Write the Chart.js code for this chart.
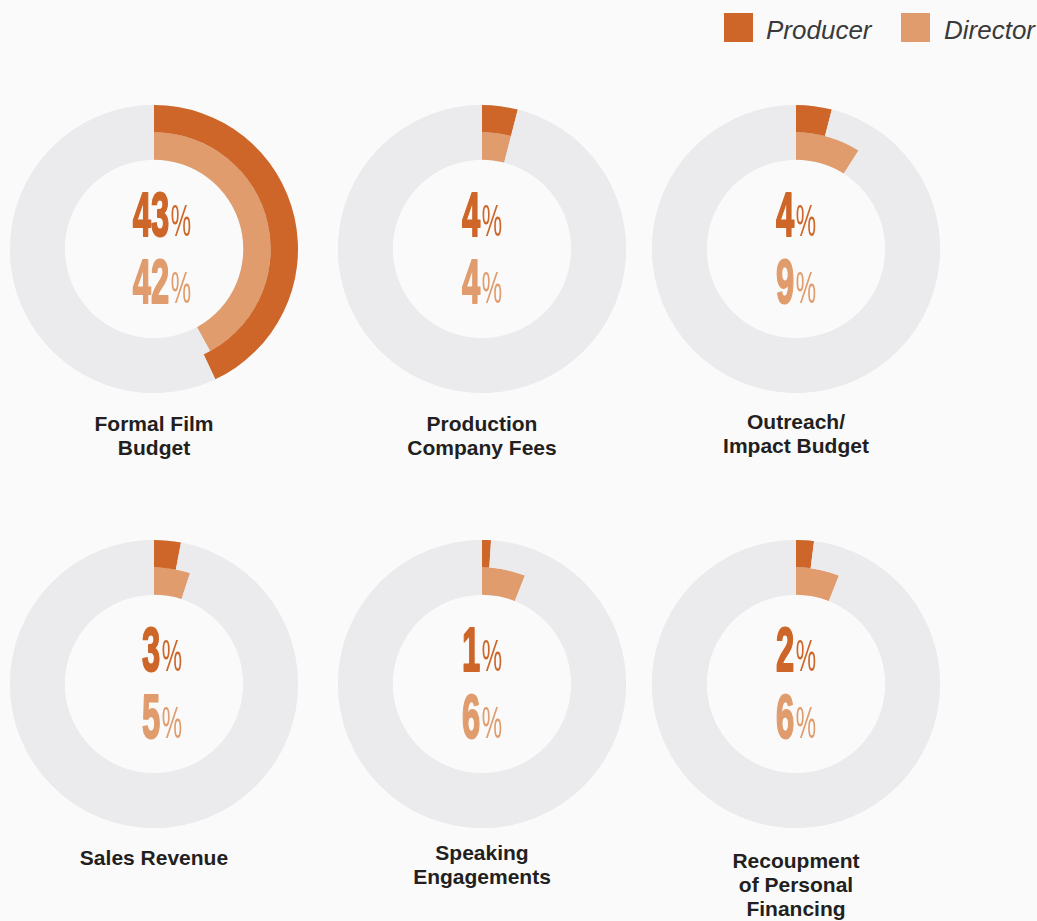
<!DOCTYPE html>
<html>
<head>
<meta charset="utf-8">
<script src="https://cdn.jsdelivr.net/npm/chart.js@4.4.1/dist/chart.umd.min.js"></script>
<style>
  html, body { margin: 0; padding: 0; background: #fafafa; }
  body { width: 1037px; height: 921px; position: relative; overflow: hidden; font-family: "Liberation Sans", Arial, sans-serif; }
  .ring { position: absolute; width: 288px; height: 288px; }
  .title { position: absolute; width: 260px; text-align: center; font-weight: bold; font-size: 21px; line-height: 24px; color: #231f20; }
  .legend-box { position: absolute; width: 29px; height: 29px; top: 13px; }
  .legend-text { position: absolute; top: 17px; font-size: 26px; line-height: 26px; font-style: italic; color: #3a3a3a; }
</style>
</head>
<body>
<div class="legend-box" style="left:724px; background:#cd6628;"></div>
<span class="legend-text" id="lg-0" style="left:766px;"></span>
<div class="legend-box" style="left:901px; background:#e09c6d;"></div>
<span class="legend-text" id="lg-1" style="left:944px;"></span>

<script>
// ============================== DATA

const categories = [
  ['Formal Film', 'Budget'],
  ['Production', 'Company Fees'],
  ['Outreach/', 'Impact Budget'],
  ['Sales Revenue'],
  ['Speaking', 'Engagements'],
  ['Recoupment', 'of Personal', 'Financing'],
];
const seriesNames = ['Producer', 'Director'];
const producerPct = [43, 4, 4, 3, 1, 2];
const directorPct = [42, 4, 9, 5, 6, 6];

// ============================== LAYOUT

const PRODUCER_COLOR = '#cd6628';
const DIRECTOR_COLOR = '#e09c6d';
const TRACK_COLOR = '#ebebed';

const centers = [
  [154, 249], [482, 249], [796, 249],
  [154, 684], [482, 684], [796, 684],
];
const textShift = [8, 0, 0, 8, 0, 0];
const titleTops = [412, 412, 410, 846, 841, 849];

// ============================== UTILS

function drawPct(ctx, value, x, y, color) {
  ctx.save();
  ctx.translate(x, y);
  ctx.scale(0.52, 1);
  ctx.fillStyle = color;
  ctx.strokeStyle = color;
  ctx.textBaseline = 'alphabetic';
  ctx.textAlign = 'left';

  ctx.font = 'bold 63px "Liberation Sans"';
  const num = String(value);
  const wNum = ctx.measureText(num).width;
  ctx.font = '44px "Liberation Sans"';
  const wPct = ctx.measureText('%').width;
  const gap = 3;
  const start = -(wNum + gap + wPct) / 2;

  ctx.font = 'bold 63px "Liberation Sans"';
  ctx.lineWidth = 2;
  ctx.lineJoin = 'round';
  ctx.fillText(num, start, 0);
  ctx.strokeText(num, start, 0);

  ctx.font = '44px "Liberation Sans"';
  ctx.fillText('%', start + wNum + gap, 0);
  ctx.restore();
}

// grey ring under both datasets, so the seam between them does not show
const track = {
  id: 'track',
  beforeDatasetsDraw(chart) {
    const outer = chart.getDatasetMeta(0).data[0];
    const inner = chart.getDatasetMeta(1).data[0];
    const { ctx } = chart;
    ctx.save();
    ctx.beginPath();
    ctx.arc(outer.x, outer.y, outer.outerRadius, 0, Math.PI * 2);
    ctx.arc(outer.x, outer.y, inner.innerRadius, 0, Math.PI * 2, true);
    ctx.fillStyle = TRACK_COLOR;
    ctx.fill();
    ctx.restore();
  }
};

const centerLabels = {
  id: 'centerLabels',
  afterDraw(chart, args, opts) {
    const arc = chart.getDatasetMeta(0).data[0];
    const cx = arc.x + opts.shiftX;
    const cy = arc.y;
    drawPct(chart.ctx, opts.producer, cx, cy - 13, PRODUCER_COLOR);
    drawPct(chart.ctx, opts.director, cx, cy + 54, DIRECTOR_COLOR);
  }
};

// ============================== CHART JS

Chart.defaults.animation = false;
Chart.defaults.elements.arc.borderWidth = 0;

seriesNames.forEach((name, i) => {
  document.getElementById('lg-' + i).textContent = name;
});

categories.forEach((lines, i) => {
  const [cx, cy] = centers[i];

  const canvas = document.createElement('canvas');
  canvas.className = 'ring';
  canvas.width = 288;
  canvas.height = 288;
  canvas.style.left = (cx - 144) + 'px';
  canvas.style.top = (cy - 144) + 'px';
  document.body.appendChild(canvas);

  const title = document.createElement('div');
  title.className = 'title';
  title.style.left = (cx - 130) + 'px';
  title.style.top = titleTops[i] + 'px';
  title.innerHTML = lines.join('<br>');
  document.body.appendChild(title);

  new Chart(canvas, {
    type: 'doughnut',
    data: {
      labels: [seriesNames[0], seriesNames[1]],
      datasets: [
        {
          label: seriesNames[0],
          data: [producerPct[i], 100 - producerPct[i]],
          backgroundColor: [PRODUCER_COLOR, TRACK_COLOR],
        },
        {
          label: seriesNames[1],
          data: [directorPct[i], 100 - directorPct[i]],
          backgroundColor: [DIRECTOR_COLOR, TRACK_COLOR],
        },
      ]
    },
    options: {
      responsive: false,
      cutout: '62%',
      hoverOffset: 0,
      layout: { padding: 0 },
      events: [],
      plugins: {
        legend: { display: false },
        tooltip: { enabled: false },
        centerLabels: {
          producer: producerPct[i],
          director: directorPct[i],
          shiftX: textShift[i],
        },
      },
    },
    plugins: [track, centerLabels],
  });
});
</script>
</body>
</html>
